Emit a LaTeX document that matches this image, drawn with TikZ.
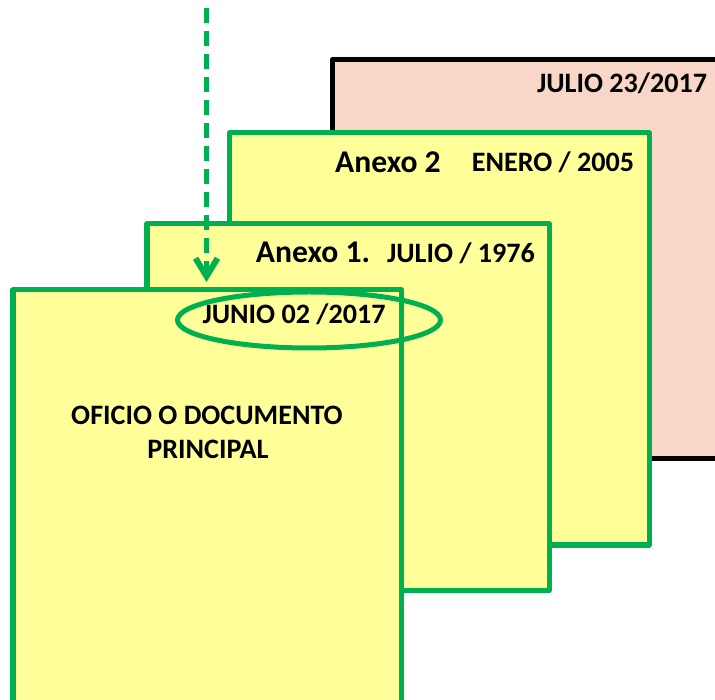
\documentclass[tikz,border=0pt]{standalone}
\usepackage{fontspec}
\setmainfont{Carlito}
\usepackage{tkz-euclide, tikz, xcolor}
\usetikzlibrary{arrows.meta, calc}
\definecolor{hojaverde}{HTML}{00B050}
\definecolor{hojaamarilla}{HTML}{FFFF99}
\definecolor{hojarosa}{HTML}{F8D7C9}
\tikzset{hoja/.style = {line width=2.85pt, draw=hojaverde, fill=hojaamarilla}}
\tikzset{fecha/.style = {font=\bfseries\fontsize{16}{19}\selectfont, inner sep=0pt}}
\tikzset{anexo/.style = {font=\bfseries\fontsize{18}{21}\selectfont, inner sep=0pt}}

\begin{document}
\begin{tikzpicture}
\useasboundingbox (0,0) rectangle (14.3,13.98);
\clip (0,0) rectangle (14.3,13.98);
\tkzDefPoints{6.65/4.81/P1, 14.6/4.81/P2, 14.6/12.79/P3, 6.65/12.79/P4}
\tkzDefPoints{4.59/3.08/B1, 12.98/3.08/B2, 12.98/11.32/B3, 4.59/11.32/B4}
\tkzDefPoints{2.94/2.17/A1, 10.98/2.17/A2, 10.98/9.5/A3, 2.94/9.5/A4}
\tkzDefPoints{0.26/-0.3/O1, 8.03/-0.3/O2, 8.03/8.18/O3, 0.26/8.18/O4}
\tkzDefPoints{4.13/13.82/F1, 4.13/8.34/F2, 6.18/7.58/E}
\tkzDrawPolygon[line width=2.85pt, draw=black, fill=hojarosa](P1,P2,P3,P4)
\tkzDrawPolygon[hoja](B1,B2,B3,B4)
\tkzDrawPolygon[hoja](A1,A2,A3,A4)
\draw[line width=3.4pt, hojaverde, dash pattern=on 0.3cm off 0.16cm,
  -{Straight Barb[length=0.36cm, width=0.44cm]}] (F1) -- (F2);
\tkzDrawPolygon[hoja](O1,O2,O3,O4)
\node[fecha] (julio) at (12.44,12.32) {JULIO 23/2017};
\node[anexo] (anexo2) at (7.76,10.74) {Anexo 2};
\node[fecha] (enero) at (11.06,10.74) {ENERO / 2005};
\node[anexo] (anexo1) at (6.26,8.94) {Anexo 1.};
\node[fecha] (julio76) at (9.22,8.92) {JULIO / 1976};
\node[fecha] (junio) at (5.88,7.70) {JUNIO 02 /2017};
\node[fecha] (oficio) at (4.14,5.68) {OFICIO O DOCUMENTO};
\node[fecha] (principal) at (4.16,5.00) {PRINCIPAL};
\draw[line width=2.85pt, hojaverde] (E) ellipse [x radius=2.63, y radius=0.56];
\end{tikzpicture}
\end{document}
